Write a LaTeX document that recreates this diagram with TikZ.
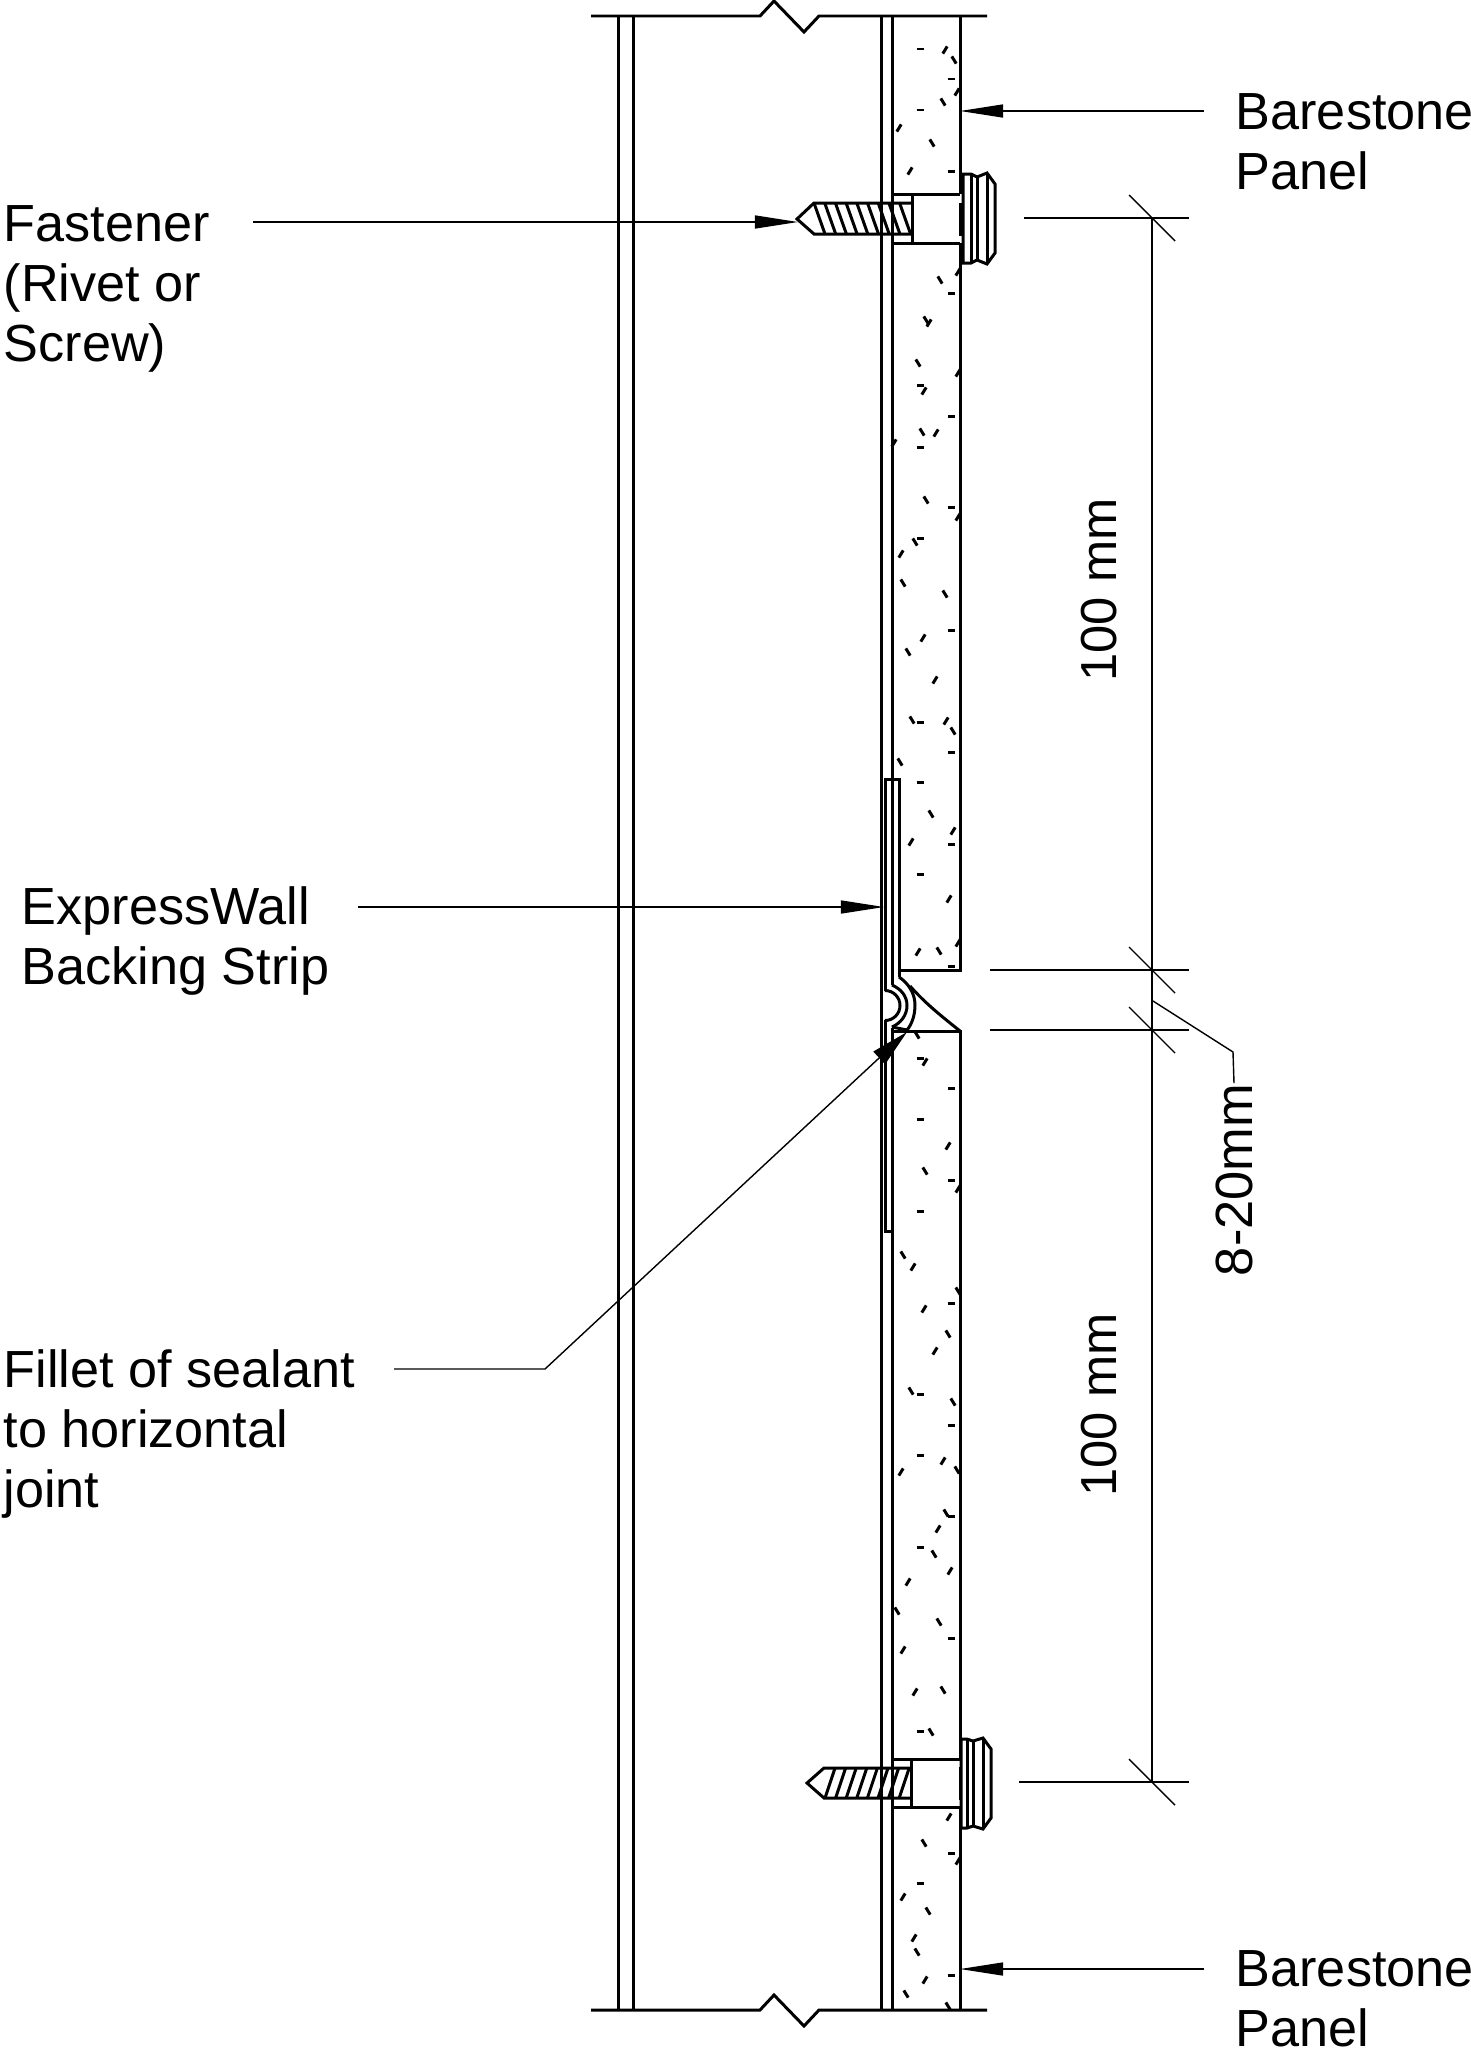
\documentclass[tikz,border=0pt]{standalone}
\usepackage{fontspec}
\setmainfont{Liberation Sans}
\usetikzlibrary{arrows.meta}
\tikzset{
    wallline/.style={line width=.85pt,line join=miter},
    thinline/.style={line width=.4pt},
    speck/.style={line width=.85pt},
    leaderarrow/.style={thinline,-{Triangle[length=4.3mm,width=1.3mm]}},
    sealarrow/.style={thinline,-{Triangle[length=3.8mm,width=1.7mm]}},
    callout/.style={inner sep=0,align=left,anchor=west,font=\fontsize{14.85pt}{17pt}\selectfont},
    dimtext/.style={inner sep=0,rotate=90,font=\fontsize{14.4pt}{17pt}\selectfont},
}
\begin{document}
\begin{tikzpicture}[x=.01cm,y=-.01cm]
    \useasboundingbox (0,0) rectangle (1471,2048);
    \pgfmathsetmacro{\walltop}{16}
    \pgfmathsetmacro{\wallbottom}{2010}
    \pgfmathsetmacro{\dimx}{1152}
    % top and bottom break lines
    \foreach \y in {\walltop,\wallbottom}
        \draw[wallline] (591,\y) -- (760,\y) -- ++(14,-15) -- ++(30,31) -- ++(15,-16) -- (987,\y);
    \foreach \x in {618,633,881}
        \draw[wallline] (\x,\walltop) -- (\x,\wallbottom);
    % panel faces
    \draw[wallline] (892,\walltop) -- (892,985);
    \draw[wallline] (892,1028) -- (892,\wallbottom);
    \draw[wallline] (960,\walltop) -- (960,194);
    \draw[wallline] (899,970) -- (960,970) -- (960,243);
    \draw[wallline] (892,1031) -- (960,1031) -- (960,1759);
    \draw[wallline] (960,1807) -- (960,\wallbottom);
    % backing strip
    \draw[wallline] (885,991) -- (885,779) -- (899,779) -- (899,977);
    \draw[wallline] (885,1020) -- (885,1231) -- (892,1231);
    \draw[wallline] (885,990.5) .. controls (893.3,990.5) and (900,997.2) .. (900,1005.5) .. controls (900,1013.8) and (893.3,1020.5) .. (885,1020.5);
    \draw[wallline] (892,985) .. controls (901,989) and (907,996) .. (907,1005.5) .. controls (907,1015) and (901,1023) .. (892,1027);
    \draw[wallline] (899,977) .. controls (908,983) and (915,993) .. (915,1005) .. controls (915,1015) and (912,1024) .. (907,1030) -- (892,1027);
    \draw[wallline] (910,986) .. controls (925,1003) and (940,1015) .. (960,1031);
    % upper fastener
    \draw[wallline] (892,194) -- (960,194) (892,243) -- (960,243);
    \draw[wallline] (912,194) -- (912,243);
    \draw[wallline] (912,203) -- (814,203) -- (797,219) -- (814,234) -- (912,234);
    \draw[wallline] (963,204) -- (960,204) -- (960,234) -- (963,234);
    \foreach \i in {0,...,8}
        \draw[wallline] (814+10.7*\i,203) -- ++(11,31);
    \draw[wallline] (963,174) -- (971,174) -- (977,177) -- (987,173) -- (995,184) -- (995,253) -- (987,264) -- (977,260) -- (971,263) -- (963,263) -- cycle;
    \draw[wallline] (971,174) -- (971,263) (977,177) -- (977,260) (987,173) -- (987,264);
    % lower fastener
    \draw[wallline] (892,1759) -- (960,1759) (892,1807) -- (960,1807);
    \draw[wallline] (911,1759) -- (911,1807);
    \draw[wallline] (911,1768) -- (824,1768) -- (807,1783) -- (824,1798) -- (911,1798);
    \draw[wallline] (961,1768) -- (960,1768) -- (960,1798) -- (961,1798);
    \foreach \i in {0,...,7}
        \draw[wallline] (835+10.6*\i,1768) -- ++(-10,30);
    \draw[wallline] (961,1739) -- (967,1739) -- (973,1741) -- (983,1738) -- (991,1749) -- (991,1818) -- (983,1829) -- (973,1826) -- (967,1828) -- (961,1828) -- cycle;
    \draw[wallline] (967,1739) -- (967,1828) (973,1741) -- (973,1826) (983,1738) -- (983,1829);
    % aggregate specks in the panels
    \foreach \x/\y in {920/49,951/79,920/110,951/171,951/293,920/385,951/416,920/447,951/507,920/538,951/630,920/722,951/752,920/782,951/844,920/874,951/966,920/1058,951/1088,920/1119,951/1180,920/1211,951/1303,920/1394,951/1425,920/1455,951/1516,920/1547,951/1638,920/1731,951/1853,920/1883,951/1975}
        \draw[speck] (\x-3.5,\y) -- ++(7,0);
    \foreach \x/\y in {954/60,943/102,932/143,940/280,926/320,918/363,922/432,926/500,915/542,903/583,945/594,908/652,912/720,953/731,900/762,931/814,939/951,917/1035,925/1171,903/1255,958/1291,948/1334,911/1391,953/1402,957/1470,946/1513,934/1554,897/1611,939/1622,943/1690,931/1732,924/1843,928/1911,917/1952,906/1994,948/2006}
        \draw[speck] (\x-2.2,\y-3.6) -- ++(4.4,7.2);
    \foreach \x/\y in {945/50,957/92,899/128,910/171,958/272,929/323,958/373,924/391,936/433,894/443,958/517,901/554,923/638,935/680,946/721,953/831,911/842,949/899,918/952,958/943,925/1062,948/1146,958/1189,913/1267,924/1309,935/1351,943/1461,901/1472,938/1529,950/1571,908/1582,903/1650,915/1692,949/1817,958/1861,903/1897,914/1938,925/1980}
        \draw[speck] (\x-2.2,\y+3.6) -- ++(4.4,-7.2);
    % callouts
    \node[callout] (paneltop) at (1235,142) {Barestone\\Panel};
    \node[callout] (fastener) at (3,289) {Fastener\\(Rivet or\\Screw)};
    \node[callout] (strip) at (21,941) {ExpressWall\\Backing Strip};
    \node[callout] (fillet) at (3,1434) {Fillet of sealant\\to horizontal\\joint};
    \node[callout] (panelbottom) at (1235,1999) {Barestone\\Panel};
    \coordinate (paneltopfrom) at (1204,111);
    \coordinate (paneltoptip) at (960,111);
    \coordinate (fastenerfrom) at (253,222);
    \coordinate (fastenertip) at (798,222);
    \coordinate (stripfrom) at (358,907);
    \coordinate (striptip) at (884,907);
    \coordinate (filletfrom) at (394,1369);
    \coordinate (filletbend) at (545,1369);
    \coordinate (fillettip) at (907,1032);
    \coordinate (panelbottomfrom) at (1204,1969);
    \coordinate (panelbottomtip) at (960,1969);
    \draw[leaderarrow] (paneltopfrom) -- (paneltoptip);
    \draw[leaderarrow] (fastenerfrom) -- (fastenertip);
    \draw[leaderarrow] (stripfrom) -- (striptip);
    \draw[sealarrow] (filletfrom) -- (filletbend) -- (fillettip);
    \draw[leaderarrow] (panelbottomfrom) -- (panelbottomtip);
    % dimensions
    \draw[thinline] (\dimx,218) -- (\dimx,1782);
    \draw[thinline] (1024,218) -- (1189,218);
    \draw[thinline] (990,970) -- (1189,970);
    \draw[thinline] (990,1030) -- (1189,1030);
    \draw[thinline] (1019,1782) -- (1189,1782);
    \foreach \y in {218,970,1030,1782}
        \draw[thinline] (\dimx-23,\y-23) -- (\dimx+23,\y+23);
    \node[dimtext] (dimupper) at (1099,590) {100 mm};
    \node[dimtext] (dimlower) at (1099,1405) {100 mm};
    \node[dimtext,font=\fontsize{14.9pt}{17pt}\selectfont] (dimgap) at (1234,1180) {8-20mm};
    \coordinate (gapfrom) at (1153,1001);
    \coordinate (gapbend) at (1233,1052);
    \draw[thinline] (gapfrom) -- (gapbend) -- (dimgap.east);
\end{tikzpicture}
\end{document}
